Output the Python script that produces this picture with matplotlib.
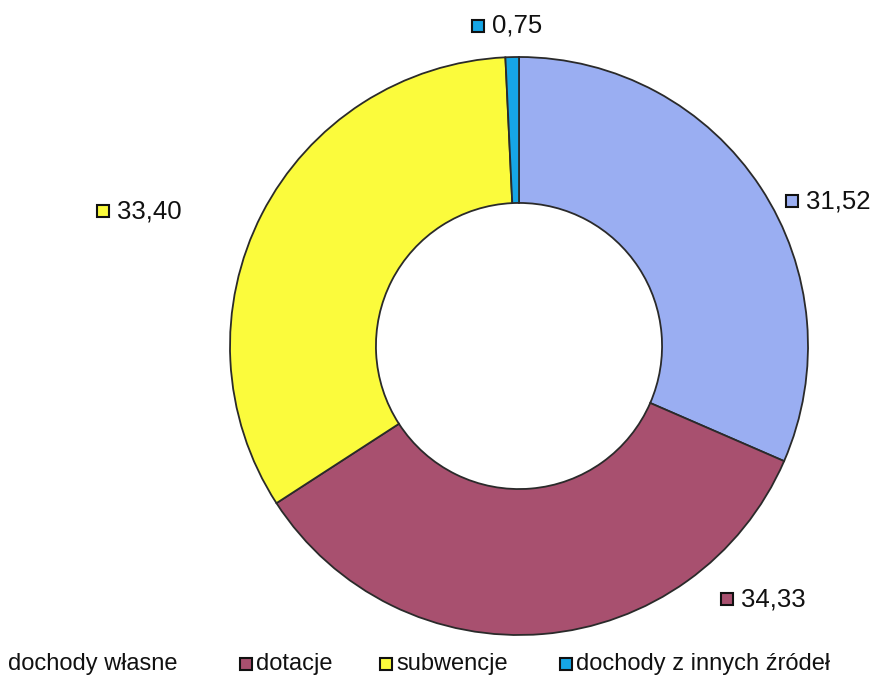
import matplotlib.pyplot as plt

plt.rcParams['font.family'] = ['Liberation Sans', 'DejaVu Sans']

categories = ["dochody własne", "dotacje", "subwencje", "dochody z innych źródeł"]
values = [31.52, 34.33, 33.40, 0.75]
value_labels = ["31,52", "34,33", "33,40", "0,75"]
colors = ["#9aaef2", "#a8506f", "#fbfb3c", "#16a6e6"]

W, H = 877, 678
cx, cy, R = 519, 346, 289


def px(x, y):
    # pixel position (from top-left) -> data coords
    return (x - cx) / R, (cy - y) / R


fig = plt.figure(figsize=(W / 100, H / 100), dpi=100)
ax = fig.add_axes([0, 0, 1, 1])

wedges, _ = ax.pie(values, colors=colors, startangle=90, counterclock=False,
                   radius=1.0, wedgeprops=dict(width=0.505, edgecolor="#2a2a2a", linewidth=1.3))

# pie() resets the limits, so set them afterwards
ax.set_xlim(-cx / R, (W - cx) / R)
ax.set_ylim(-(H - cy) / R, cy / R)
ax.set_aspect('equal')
ax.axis('off')

# value labels with small square markers
label_pos = [(792, 201), (727, 599), (103, 211), (478, 26)]
for (x, y), lab, col in zip(label_pos, value_labels, colors):
    mx, my = px(x, y)
    ax.plot(mx, my, marker='s', markersize=9, markerfacecolor=col,
            markeredgecolor='#111111', markeredgewidth=1.5, clip_on=False)
    ax.text(mx + 14 / R, my, lab, fontsize=18.5, va='center', ha='left', color='#111111')

# legend row (first marker falls outside the picture)
legend_x = [-14, 246, 386, 566]
for x, cat, col in zip(legend_x, categories, colors):
    mx, my = px(x, 664)
    ax.plot(mx, my, marker='s', markersize=9, markerfacecolor=col,
            markeredgecolor='#111111', markeredgewidth=1.5, clip_on=True)
    tx = 8 if x < 0 else x + 10
    ax.text(px(tx, 0)[0], my, cat, fontsize=17, va='center', ha='left', color='#111111')

plt.savefig("out.png", dpi=100)
